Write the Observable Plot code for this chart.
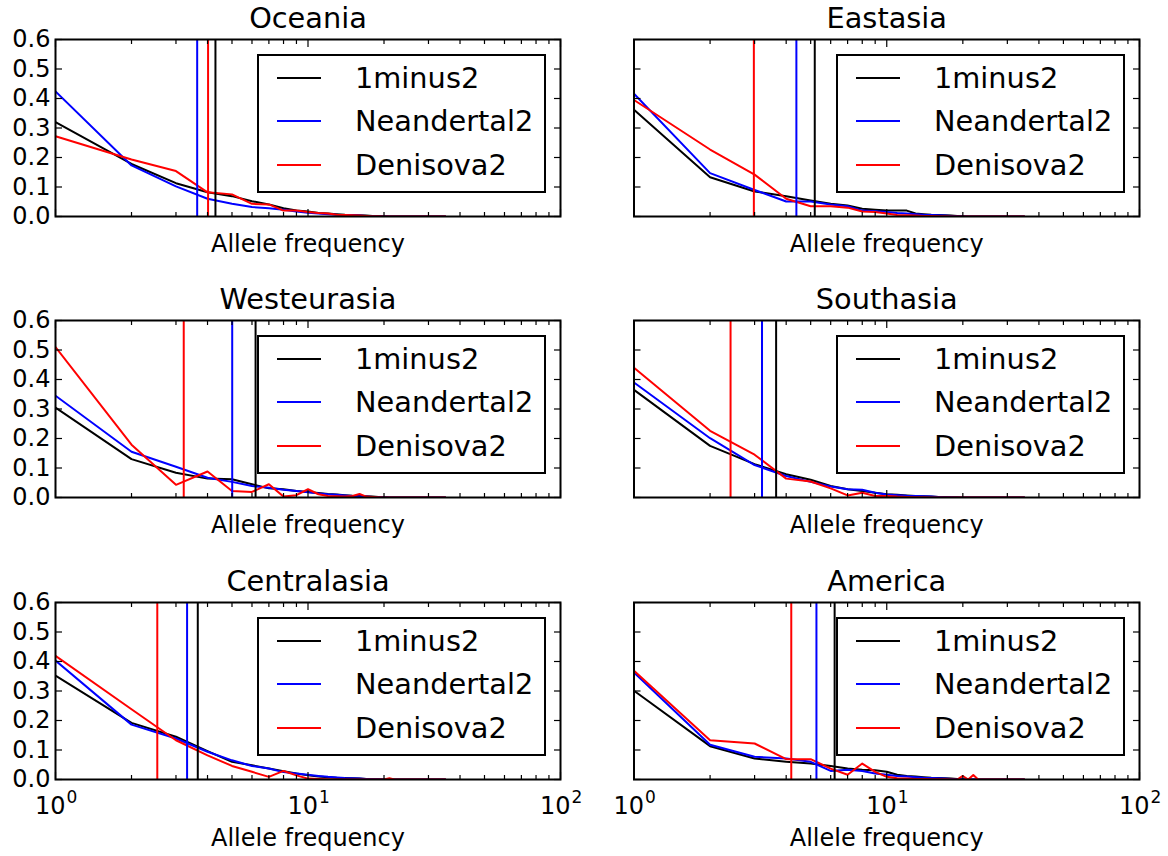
<!DOCTYPE html>
<html><head><meta charset="utf-8">
<script src="https://cdn.jsdelivr.net/npm/d3@7"></script>
<script src="https://cdn.jsdelivr.net/npm/@observablehq/plot@0.6"></script>
<style>
body{margin:0;background:#fff;}
#chart{position:relative;width:1168px;height:856px;font-family:"DejaVu Sans",sans-serif;overflow:hidden;}
.panel{position:absolute;}
.legend{position:absolute;border:2px solid #000;background:#fff;box-sizing:border-box;width:289px;height:139px;}
.legend .sw{position:absolute;left:18px;width:44px;height:2px;}
.legend .lab{position:absolute;left:96px;transform:translateY(-50%);font-size:28.8px;white-space:nowrap;line-height:1;color:#000;}
</style>
</head><body>
<div id="chart"></div>
<script>
// ---- data ----
const regions = ["Oceania", "Eastasia", "Westeurasia", "Southasia", "Centralasia", "America"];
const seriesNames = ["1minus2", "Neandertal2", "Denisova2"];
const seriesColors = ["#000000", "#0000ff", "#ff0000"];
const xTicksMajor = [1, 10, 100];
const xTicksMinor = [2, 3, 4, 5, 6, 7, 8, 9, 20, 30, 40, 50, 60, 70, 80, 90];
const yTicks = [0, 0.1, 0.2, 0.3, 0.4, 0.5, 0.6];
const xTickBase = "10";
const xTickExponents = ["0", "1", "2"];

// frequencies for allele counts 1, 2, 3, ...
const oceania1minus2    = [0.320, 0.178, 0.113, 0.082, 0.069, 0.052, 0.041, 0.028, 0.020, 0.017, 0.012, 0.010, 0.008, 0.006, 0.005, 0.004, 0.003, 0.002, 0.002, 0.001];
const oceaniaNeandertal2 = [0.424, 0.173, 0.102, 0.060, 0.043, 0.032, 0.028, 0.023, 0.017, 0.013, 0.010, 0.008, 0.006, 0.005, 0.004, 0.003, 0.002, 0.002, 0.001, 0.001];
const oceaniaDenisova2  = [0.272, 0.193, 0.154, 0.082, 0.075, 0.043, 0.041, 0.020, 0.020, 0.015, 0.012, 0.010, 0.006, 0.005, 0.004, 0.003, 0.002, 0.001, 0.001, 0.000];

const eastasia1minus2    = [0.362, 0.133, 0.085, 0.069, 0.054, 0.043, 0.037, 0.026, 0.023, 0.020, 0.020, 0.020, 0.010, 0.008, 0.006, 0.005, 0.004, 0.003, 0.002, 0.001];
const eastasiaNeandertal2 = [0.416, 0.147, 0.090, 0.051, 0.051, 0.041, 0.035, 0.020, 0.018, 0.015, 0.012, 0.010, 0.008, 0.006, 0.005, 0.004, 0.003, 0.002, 0.001, 0.001];
const eastasiaDenisova2  = [0.395, 0.227, 0.142, 0.060, 0.035, 0.035, 0.030, 0.017, 0.015, 0.010, 0.005, 0.004, 0.003, 0.002, 0.002, 0.001, 0.001, 0.000, 0.000, 0.000];

const westeurasia1minus2    = [0.305, 0.130, 0.084, 0.064, 0.062, 0.045, 0.031, 0.028, 0.022, 0.019, 0.015, 0.012, 0.010, 0.008, 0.006, 0.005, 0.004, 0.003, 0.002, 0.001];
const westeurasiaNeandertal2 = [0.345, 0.155, 0.104, 0.067, 0.053, 0.039, 0.033, 0.026, 0.022, 0.018, 0.014, 0.011, 0.009, 0.007, 0.005, 0.004, 0.003, 0.002, 0.002, 0.001];
const westeurasiaDenisova2  = [0.510, 0.179, 0.043, 0.088, 0.022, 0.019, 0.045, 0.003, 0.008, 0.028, 0.011, 0.005, 0.004, 0.003, 0.005, 0.012, 0.003, 0.002, 0.001, 0.000];

const southasia1minus2    = [0.365, 0.175, 0.113, 0.079, 0.060, 0.039, 0.028, 0.022, 0.016, 0.011, 0.009, 0.007, 0.005, 0.004, 0.003, 0.002, 0.002, 0.001, 0.001, 0.000];
const southasiaNeandertal2 = [0.390, 0.201, 0.110, 0.073, 0.053, 0.037, 0.028, 0.026, 0.016, 0.010, 0.008, 0.006, 0.005, 0.004, 0.003, 0.002, 0.001, 0.001, 0.000, 0.000];
const southasiaDenisova2  = [0.440, 0.226, 0.145, 0.064, 0.054, 0.031, 0.007, 0.016, 0.005, 0.005, 0.003, 0.002, 0.001, 0.001, 0.000, 0.000, 0.000, 0.000, 0.000, 0.000];

const centralasia1minus2    = [0.352, 0.192, 0.145, 0.096, 0.060, 0.048, 0.037, 0.028, 0.020, 0.014, 0.010, 0.008, 0.006, 0.005, 0.004, 0.003, 0.002, 0.001, 0.001, 0.000];
const centralasiaNeandertal2 = [0.403, 0.186, 0.139, 0.094, 0.065, 0.046, 0.037, 0.025, 0.020, 0.016, 0.012, 0.009, 0.007, 0.005, 0.004, 0.003, 0.002, 0.001, 0.001, 0.000];
const centralasiaDenisova2  = [0.419, 0.238, 0.133, 0.082, 0.046, 0.026, 0.009, 0.029, 0.014, 0.003, 0.002, 0.001, 0.000, 0.000, 0.000, 0.000, 0.000, 0.000, 0.000, 0.000, 0.004, 0.000];

const america1minus2    = [0.301, 0.113, 0.071, 0.060, 0.054, 0.046, 0.037, 0.033, 0.031, 0.026, 0.016, 0.012, 0.010, 0.008, 0.006, 0.005, 0.004, 0.003, 0.002, 0.001];
const americaNeandertal2 = [0.363, 0.118, 0.077, 0.071, 0.060, 0.029, 0.033, 0.029, 0.020, 0.016, 0.012, 0.010, 0.008, 0.006, 0.005, 0.004, 0.003, 0.002, 0.001, 0.001];
const americaDenisova2  = [0.369, 0.133, 0.122, 0.069, 0.069, 0.037, 0.016, 0.054, 0.026, 0.009, 0.004, 0.003, 0.002, 0.002, 0.001, 0.001, 0.001, 0.000, 0.000, 0.012, 0.000, 0.015];

// mean allele frequency (vertical lines): 1minus2, Neandertal2, Denisova2
const meanOceania     = [4.30, 3.64, 4.02];
const meanEastasia    = [5.19, 4.39, 2.98];
const meanWesteurasia = [6.20, 5.01, 3.22];
const meanSouthasia   = [3.65, 3.21, 2.41];
const meanCentralasia = [3.66, 3.32, 2.53];
const meanAmerica     = [6.22, 5.27, 4.19];

const lastCount = 35;

const regionSeries = {
  Oceania: [oceania1minus2, oceaniaNeandertal2, oceaniaDenisova2],
  Eastasia: [eastasia1minus2, eastasiaNeandertal2, eastasiaDenisova2],
  Westeurasia: [westeurasia1minus2, westeurasiaNeandertal2, westeurasiaDenisova2],
  Southasia: [southasia1minus2, southasiaNeandertal2, southasiaDenisova2],
  Centralasia: [centralasia1minus2, centralasiaNeandertal2, centralasiaDenisova2],
  America: [america1minus2, americaNeandertal2, americaDenisova2]
};
const regionMeans = {
  Oceania: meanOceania, Eastasia: meanEastasia, Westeurasia: meanWesteurasia,
  Southasia: meanSouthasia, Centralasia: meanCentralasia, America: meanAmerica
};

// ---- layout ----
const chart = document.getElementById("chart");
const frameTops = [39, 320, 601.5];
const frameH = 177;

regions.forEach((region, idx) => {
  const col = idx % 2, row = Math.floor(idx / 2);
  const isBottom = row === 2;
  const svgLeft = col ? 578 : 0;
  const marginLeft = col ? 55.5 : 55;
  const width = col ? 585 : 584;
  const svgTop = frameTops[row] - 39;
  const height = isBottom ? 856 - svgTop : 280;
  const marginBottom = height - 39 - frameH;

  const rows = [];
  regionSeries[region].forEach((vals, s) => {
    for (let i = 0; i < lastCount; i++) {
      rows.push({series: seriesNames[s], color: seriesColors[s], x: i + 1, y: i < vals.length ? vals[i] : 0});
    }
  });
  const means = regionMeans[region].map((m, s) => ({series: seriesNames[s], color: seriesColors[s], x: m}));

  const marks = [
    Plot.line(rows, {x: "x", y: "y", z: "series", stroke: "color", strokeWidth: 2, clip: true}),
    Plot.ruleX(means, {x: "x", stroke: "color", strokeWidth: 2}),
    // inward ticks
    Plot.axisX(xTicksMajor, {anchor: "bottom", tickSize: -7, tickFormat: () => "", label: null, strokeWidth: 1.2}),
    Plot.axisX(xTicksMinor, {anchor: "bottom", tickSize: -4, tickFormat: () => "", label: null, strokeWidth: 1.2}),
    Plot.axisX(xTicksMajor, {anchor: "top", tickSize: -7, tickFormat: () => "", label: null, strokeWidth: 1.2}),
    Plot.axisX(xTicksMinor, {anchor: "top", tickSize: -4, tickFormat: () => "", label: null, strokeWidth: 1.2}),
    Plot.axisY(yTicks, {anchor: "left", tickSize: -7, tickFormat: () => "", label: null, strokeWidth: 1.2}),
    Plot.axisY(yTicks, {anchor: "right", tickSize: -7, tickFormat: () => "", label: null, strokeWidth: 1.2}),
    Plot.frame({stroke: "#000", strokeWidth: 2}),
    Plot.text([region], {frameAnchor: "top", text: d => d, lineAnchor: "bottom", dy: -12, fontSize: 28.8, fill: "#000"}),
    Plot.text(["Allele frequency"], {frameAnchor: "bottom", text: d => d, lineAnchor: "middle", dy: isBottom ? 59 : 28, fontSize: 24, fill: "#000"})
  ];
  if (col === 0) {
    marks.push(Plot.axisY(yTicks, {anchor: "left", tickSize: 0, tickPadding: 5, tickFormat: d3.format(".1f"), label: null, fontSize: 24, fill: "#000"}));
  }
  if (isBottom) {
    marks.push(Plot.text(xTicksMajor, {x: d => d, text: () => xTickBase, frameAnchor: "bottom", textAnchor: "end", lineAnchor: "middle", dx: 10, dy: 27, fontSize: 24, fill: "#000"}));
    marks.push(Plot.text(xTicksMajor, {x: d => d, text: d => xTickExponents[xTicksMajor.indexOf(d)], frameAnchor: "bottom", textAnchor: "start", lineAnchor: "middle", dx: 11, dy: 18, fontSize: 17, fill: "#000"}));
  }

  const svg = Plot.plot({
    width, height, marginLeft, marginRight: 24, marginTop: 39, marginBottom,
    x: {type: "log", domain: [1, 100], axis: null},
    y: {domain: [0, 0.6], axis: null},
    style: {fontFamily: "DejaVu Sans", fontSize: "24px", background: "transparent", overflow: "visible", color: "#000"},
    marks
  });
  const wrap = document.createElement("div");
  wrap.className = "panel";
  wrap.style.left = svgLeft + "px";
  wrap.style.top = svgTop + "px";
  wrap.appendChild(svg);
  chart.appendChild(wrap);

  // legend (upper right inside the frame)
  const frameRight = svgLeft + width - 24;
  const lg = document.createElement("div");
  lg.className = "legend";
  lg.style.left = (frameRight - 14 - 289) + "px";
  lg.style.top = (frameTops[row] + 15) + "px";
  const rowY = [22, 65, 109];
  seriesNames.forEach((name, s) => {
    const sw = document.createElement("div");
    sw.className = "sw";
    sw.style.top = (rowY[s] - 1) + "px";
    sw.style.background = seriesColors[s];
    lg.appendChild(sw);
    const lab = document.createElement("div");
    lab.className = "lab";
    lab.style.top = rowY[s] + "px";
    lab.textContent = name;
    lg.appendChild(lab);
  });
  chart.appendChild(lg);
});
</script>
</body></html>
